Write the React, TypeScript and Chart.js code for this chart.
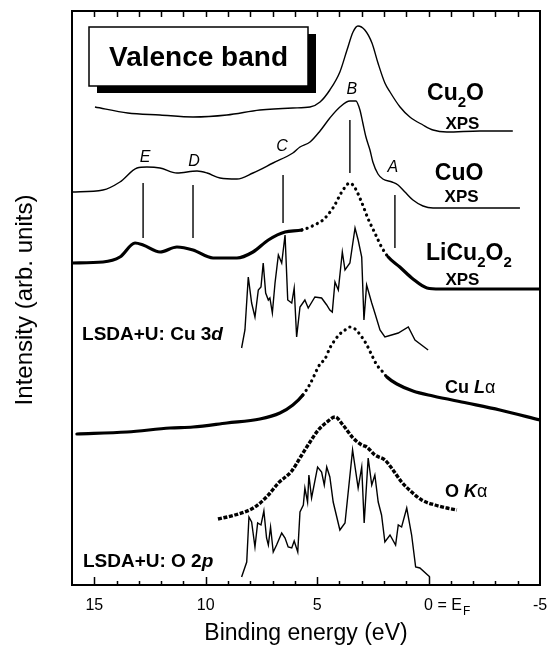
import React, { useEffect, useRef } from "react";
import { Chart, registerables } from "chart.js";

Chart.register(...registerables);

// ---------- data (binding energy in eV, intensity in arbitrary units) ----------
const cu2oE = [14.97, 13.5, 12.05, 10.57, 9.05, 7.57, 6.09, 5.32, 4.87, 4.43, 3.98, 3.66, 3.39, 3.17, 2.86, 2.54, 2.27, 1.96, 1.73, 1.28, 0.84, 0.25, -0.2, -0.82, -2.3, -3.78];
const cu2oI = [478, 472, 470, 468, 470, 475, 477, 478, 483, 495, 513, 535, 553, 559, 555, 542, 522, 502, 493, 478, 468, 460, 455, 453, 454, 454];

const cuoE = [16.0, 14.61, 13.85, 13.08, 12.64, 12.05, 11.29, 10.39, 9.94, 9.36, 8.6, 7.88, 6.98, 6.09, 5.77, 5.32, 4.87, 4.43, 3.98, 3.53, 3.26, 3.08, 2.95, 2.81, 2.63, 2.5, 2.27, 2.05, 1.64, 1.37, 1.06, 0.7, 0.25, -0.2, -4.1];
const cuoI = [393, 395, 403, 417, 418, 417, 412, 414, 412, 407, 406, 412, 422, 432, 438, 443, 454, 467, 478, 484, 484, 475, 462, 448, 435, 423, 411, 406, 403, 400, 393, 385, 379, 377, 377];

const licuE = [16.0, 14.61, 13.85, 13.17, 12.81, 12.05, 11.29, 10.57, 9.67, 8.6, 7.88, 7.19, 6.44, 5.69, 4.95, 4.74, 4.29, 3.84, 3.53, 3.3, 2.99, 2.71, 2.41, 2.11, 1.81, 1.29, 0.7, 0.07, -0.51, -5.0];
const licuI = [322, 323, 328, 342, 340, 333, 338, 335, 327, 327, 333, 345, 353, 355, 362, 365, 377, 395, 402, 397, 382, 366, 352, 338, 328, 318, 306, 297, 296, 296];

const cu3dE = [8.39, 8.24, 8.09, 7.94, 7.79, 7.64, 7.52, 7.42, 7.31, 7.19, 7.12, 7.01, 6.89, 6.74, 6.59, 6.44, 6.32, 6.14, 6.03, 5.92, 5.77, 5.55, 5.4, 5.1, 4.8, 4.57, 4.43, 4.32, 4.2, 4.05, 3.87, 3.75, 3.53, 3.3, 3.16, 3.0, 2.9, 2.78, 2.55, 2.41, 2.18, 1.96, 1.66, 1.36, 0.91, 0.61, 0.02];
const cu3dI = [237, 255, 308, 282, 268, 295, 298, 322, 292, 285, 287, 272, 302, 330, 322, 350, 285, 282, 297, 248, 278, 285, 277, 288, 287, 280, 275, 273, 303, 295, 333, 315, 322, 357, 345, 328, 265, 300, 282, 272, 255, 248, 250, 252, 258, 245, 235];

const culaE = [15.78, 13.53, 11.6, 10.57, 9.05, 7.57, 6.67, 6.09, 5.64, 5.32, 4.87, 4.65, 4.43, 4.2, 3.98, 3.75, 3.53, 3.3, 3.17, 2.82, 2.55, 2.32, 2.09, 1.87, 1.42, 0.7, -0.2, -1.72, -3.2, -5.0];
const culaI = [151, 153, 157, 158, 162, 166, 172, 180, 190, 201, 221, 226, 237, 245, 251, 255, 258, 256, 253, 242, 230, 220, 214, 208, 201, 194, 189, 182, 175, 165];

const okaE = [9.45, 8.69, 7.79, 7.19, 6.74, 6.14, 5.69, 5.32, 4.95, 4.56, 4.2, 3.84, 3.6, 3.39, 3.0, 2.77, 2.41, 1.96, 1.66, 1.21, 0.76, 0.31, -0.29, -0.82, -1.27];
const okaI = [66, 70, 78, 90, 102, 114, 130, 143, 155, 163, 168, 160, 153, 147, 140, 138, 130, 125, 117, 103, 93, 85, 80, 77, 75];

const o2pE = [8.39, 8.16, 8.06, 7.94, 7.79, 7.67, 7.52, 7.39, 7.27, 7.19, 7.09, 6.97, 6.82, 6.59, 6.44, 6.3, 6.14, 6.03, 5.87, 5.77, 5.62, 5.55, 5.43, 5.37, 5.25, 4.98, 4.8, 4.68, 4.57, 4.43, 4.28, 3.98, 3.75, 3.41, 3.16, 3.0, 2.89, 2.71, 2.55, 2.41, 2.26, 2.11, 1.96, 1.73, 1.48, 1.36, 1.21, 0.98, 0.76, 0.58, 0.39, -0.06];
const o2pI = [8, 23, 68, 63, 38, 62, 60, 74, 47, 40, 58, 33, 40, 52, 47, 38, 37, 44, 33, 73, 80, 97, 83, 110, 87, 118, 113, 100, 118, 108, 83, 55, 62, 135, 97, 118, 62, 127, 100, 110, 83, 70, 43, 50, 40, 60, 58, 77, 50, 18, 17, 8];

// feature markers A–E
const markerNames = ["E", "D", "C", "B", "A"];
const markerE = [12.81, 10.57, 6.53, 3.53, 1.51];
const markerLow = [347, 347, 362, 412, 337];
const markerHigh = [402, 400, 410, 465, 390];
const markerLabelE = [12.72, 10.53, 6.58, 3.44, 1.6];
const markerLabelI = [423, 419, 434, 491, 413];

// axis ticks
const minorTicks = [15, 14, 13, 12, 11, 10, 9, 8, 7, 6, 5, 4, 3, 2, 1, 0, -1, -2, -3, -4];
const majorTicks = [15, 10, 5, 0, -5];
const majorTickLabels = ["15", "10", "5", "0 = E", "-5"];

const FONT = '"Liberation Sans", Arial, Helvetica, sans-serif';

type Part = { t: string; size: number; bold?: boolean; italic?: boolean; dy?: number };
const fontOf = (p: Part) => `${p.italic ? "italic " : ""}${p.bold ? "bold " : ""}${p.size}px ${FONT}`;

function drawParts(ctx: CanvasRenderingContext2D, parts: Part[], x: number, y: number, align: "left" | "center") {
  let w = 0;
  for (const p of parts) {
    ctx.font = fontOf(p);
    w += ctx.measureText(p.t).width;
  }
  let cx = align === "center" ? x - w / 2 : x;
  ctx.textAlign = "left";
  ctx.textBaseline = "alphabetic";
  for (const p of parts) {
    ctx.font = fontOf(p);
    ctx.fillText(p.t, cx, y + (p.dy || 0));
    cx += ctx.measureText(p.t).width;
  }
}

const curveLabels: { parts: Part[]; E: number; I: number; align: "left" | "center" }[] = [
  { parts: [{ t: "Cu", size: 23, bold: true }, { t: "2", size: 15, bold: true, dy: 7 }, { t: "O", size: 23, bold: true }], E: -1.21, I: 485, align: "center" },
  { parts: [{ t: "XPS", size: 17, bold: true }], E: -1.52, I: 456, align: "center" },
  { parts: [{ t: "CuO", size: 23, bold: true }], E: -1.37, I: 405, align: "center" },
  { parts: [{ t: "XPS", size: 17, bold: true }], E: -1.48, I: 383, align: "center" },
  { parts: [{ t: "LiCu", size: 23, bold: true }, { t: "2", size: 15, bold: true, dy: 7 }, { t: "O", size: 23, bold: true }, { t: "2", size: 15, bold: true, dy: 7 }], E: -1.81, I: 325, align: "center" },
  { parts: [{ t: "XPS", size: 17, bold: true }], E: -1.52, I: 300, align: "center" },
  { parts: [{ t: "LSDA+U: Cu 3", size: 19, bold: true }, { t: "d", size: 19, bold: true, italic: true }], E: 15.55, I: 245, align: "left" },
  { parts: [{ t: "Cu ", size: 18, bold: true }, { t: "L", size: 18, bold: true, italic: true }, { t: "α", size: 18 }], E: -0.74, I: 192, align: "left" },
  { parts: [{ t: "O ", size: 18, bold: true }, { t: "K", size: 18, bold: true, italic: true }, { t: "α", size: 18 }], E: -0.74, I: 88, align: "left" },
  { parts: [{ t: "LSDA+U: O 2", size: 19, bold: true }, { t: "p", size: 19, bold: true, italic: true }], E: 15.51, I: 18, align: "left" },
];

const pts = (xs: number[], ys: number[]) => xs.map((x, i) => ({ x, y: ys[i] }));

const overlay = {
  id: "overlay",
  afterDatasetsDraw(chart: any) {
    const { ctx, chartArea: a, scales } = chart;
    const xs = scales.x;
    const ys = scales.y;
    ctx.save();
    ctx.fillStyle = "#000";
    ctx.strokeStyle = "#000";

    // frame
    ctx.lineWidth = 2;
    ctx.strokeRect(a.left, a.top, a.right - a.left, a.bottom - a.top);

    // ticks (inward)
    ctx.lineWidth = 1.5;
    for (const v of minorTicks) {
      const px = Math.round(xs.getPixelForValue(v)) + 0.5;
      const major = majorTicks.includes(v);
      ctx.beginPath();
      ctx.moveTo(px, a.bottom);
      ctx.lineTo(px, a.bottom - (major ? 8 : 4));
      ctx.moveTo(px, a.top);
      ctx.lineTo(px, a.top + 6);
      ctx.stroke();
    }

    // tick labels
    ctx.font = `16px ${FONT}`;
    ctx.textBaseline = "alphabetic";
    majorTicks.forEach((v, i) => {
      const px = xs.getPixelForValue(v);
      const label = majorTickLabels[i];
      if (v === 0) {
        ctx.font = `16px ${FONT}`;
        const w0 = ctx.measureText("0").width;
        ctx.textAlign = "left";
        ctx.fillText(label, px - w0 / 2, a.bottom + 25);
        const w = ctx.measureText(label).width;
        ctx.font = `12px ${FONT}`;
        ctx.fillText("F", px - w0 / 2 + w + 1, a.bottom + 30);
      } else {
        ctx.font = `16px ${FONT}`;
        ctx.textAlign = "center";
        ctx.fillText(label, px, a.bottom + 25);
      }
    });

    // axis titles
    ctx.font = `23px ${FONT}`;
    ctx.textAlign = "center";
    ctx.fillText("Binding energy (eV)", (a.left + a.right) / 2, a.bottom + 55);
    ctx.save();
    ctx.translate(32, 300);
    ctx.rotate(-Math.PI / 2);
    ctx.font = `24px ${FONT}`;
    ctx.fillText("Intensity (arb. units)", 0, 0);
    ctx.restore();

    // "Valence band" box with drop shadow
    const bx = a.left + 17, by = a.top + 16, bw = 219, bh = 59;
    ctx.fillRect(bx + 8, by + 7, bw, bh);
    ctx.fillStyle = "#fff";
    ctx.fillRect(bx, by, bw, bh);
    ctx.fillStyle = "#000";
    ctx.lineWidth = 1.5;
    ctx.strokeRect(bx, by, bw, bh);
    ctx.font = `bold 28px ${FONT}`;
    ctx.textAlign = "center";
    ctx.fillText("Valence band", bx + bw / 2, by + 39);

    // feature letters
    ctx.font = `italic 16px ${FONT}`;
    ctx.textAlign = "center";
    markerNames.forEach((n, i) => {
      ctx.fillText(n, xs.getPixelForValue(markerLabelE[i]), ys.getPixelForValue(markerLabelI[i]));
    });

    // curve labels
    for (const l of curveLabels) {
      drawParts(ctx, l.parts, xs.getPixelForValue(l.E), ys.getPixelForValue(l.I), l.align);
    }
    ctx.restore();
  },
};

export default function App() {
  const ref = useRef<HTMLCanvasElement | null>(null);

  useEffect(() => {
    if (!ref.current) return;
    const dotted = (lo: number, hi: number) => (c: any) =>
      c.p0.parsed.x <= hi && c.p1.parsed.x >= lo ? [0.1, 5.5] : undefined;

    const base = { pointRadius: 0, borderColor: "#000", fill: false };
    const datasets: any[] = [
      { ...base, data: pts(cu2oE, cu2oI), borderWidth: 1.4, cubicInterpolationMode: "monotone" },
      { ...base, data: pts(cuoE, cuoI), borderWidth: 1.4, cubicInterpolationMode: "monotone" },
      {
        ...base, data: pts(licuE, licuI), borderWidth: 3.2, cubicInterpolationMode: "monotone",
        borderCapStyle: "round", segment: { borderDash: dotted(1.8, 5.7) },
      },
      { ...base, data: pts(cu3dE, cu3dI), borderWidth: 1.4, tension: 0 },
      {
        ...base, data: pts(culaE, culaI), borderWidth: 3.2, cubicInterpolationMode: "monotone",
        borderCapStyle: "round", segment: { borderDash: dotted(1.85, 5.65) },
      },
      {
        ...base, data: pts(okaE, okaI), borderWidth: 3.4, cubicInterpolationMode: "monotone",
        borderDash: [4, 1.6],
      },
      { ...base, data: pts(o2pE, o2pI), borderWidth: 1.4, tension: 0 },
      ...markerE.map((e, i) => ({
        ...base, data: [{ x: e, y: markerLow[i] }, { x: e, y: markerHigh[i] }], borderWidth: 1.4, tension: 0,
      })),
    ];

    const chart = new Chart(ref.current, {
      type: "line",
      data: { datasets },
      options: {
        animation: false,
        responsive: false,
        devicePixelRatio: 1,
        layout: { padding: { left: 72, right: 7, top: 11, bottom: 60 } },
        plugins: { legend: { display: false }, tooltip: { enabled: false } },
        scales: {
          x: { type: "linear", min: -5, max: 16, reverse: true, display: false },
          y: { type: "linear", min: 0, max: 574, display: false },
        },
      },
      plugins: [overlay],
    });
    return () => chart.destroy();
  }, []);

  return (
    <div style={{ position: "fixed", left: 0, top: 0, width: 547, height: 645, background: "#fff" }}>
      <canvas ref={ref} width={547} height={645} style={{ display: "block" }} />
    </div>
  );
}
